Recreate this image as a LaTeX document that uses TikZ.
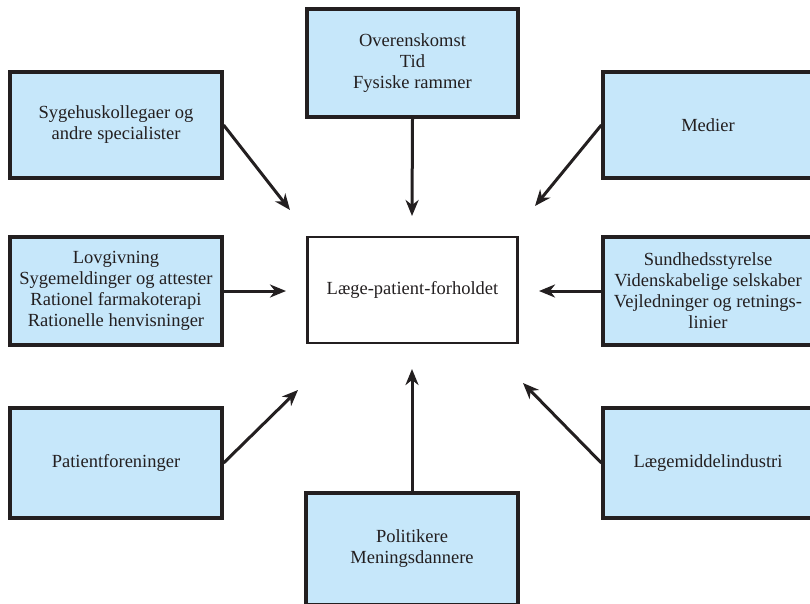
\documentclass[tikz,border=0pt]{standalone}
\usepackage{fontspec}
\setmainfont{Liberation Serif}
\usetikzlibrary{arrows.meta}
\definecolor{boxfill}{RGB}{198,231,250}
\definecolor{ink}{RGB}{35,31,32}
\tikzset{
  box/.style={draw=ink, line width=3.2pt, fill=boxfill, rectangle, align=center,
    inner sep=0pt, font=\fontsize{18.5}{21}\selectfont, text=ink},
  centerbox/.style={box, fill=white, line width=2.4pt},
  arr/.style={draw=ink, line width=3pt, -{Stealth[length=16pt,width=13pt,inset=5pt]}}
}
\begin{document}
\begin{tikzpicture}[x=1pt,y=-1pt]
\useasboundingbox (0,0) rectangle (810,603);
\node[box, minimum width=212pt, minimum height=106pt] (tl) at (116,125) {Sygehuskollegaer og\\andre specialister};
\node[box, minimum width=211pt, minimum height=108pt] (tc) at (412.5,63) {Overenskomst\\Tid\\Fysiske rammer};
\node[box, minimum width=210pt, minimum height=106pt] (tr) at (708,125) {Medier};
\node[box, minimum width=212pt, minimum height=108pt] (lm) at (116,291) {Lovgivning\\Sygemeldinger og attester\\Rationel farmakoterapi\\Rationelle henvisninger};
\node[centerbox, minimum width=210pt, minimum height=106pt] (c) at (412.5,290) {Læge-patient-forholdet};
\node[box, minimum width=210pt, minimum height=108pt] (rm) at (708,291) {Sundhedsstyrelse\\Videnskabelige selskaber\\Vejledninger og retnings-\\linier};
\node[box, minimum width=212pt, minimum height=110pt] (bl) at (116,463) {Patientforeninger};
\node[box, minimum width=212pt, minimum height=112pt] (bc) at (412,549) {Politikere\\Meningsdannere};
\node[box, minimum width=210pt, minimum height=110pt] (br) at (708,463) {Lægemiddelindustri};
\coordinate (etl) at (290,210);
\coordinate (etc) at (412,216);
\coordinate (etr) at (535,206);
\coordinate (elm) at (286,291);
\coordinate (erm) at (539,291);
\coordinate (ebl) at (298,390);
\coordinate (ebc) at (412,369);
\coordinate (ebr) at (523,383);
\draw[arr] (tl.east) -- (etl);
\draw[arr] (tc.south) -- (etc);
\draw[arr] (tr.west) -- (etr);
\draw[arr] (lm.east) -- (elm);
\draw[arr] (rm.west) -- (erm);
\draw[arr] (bl.east) -- (ebl);
\draw[arr] (bc.north) -- (ebc);
\draw[arr] (br.west) -- (ebr);
\end{tikzpicture}
\end{document}
